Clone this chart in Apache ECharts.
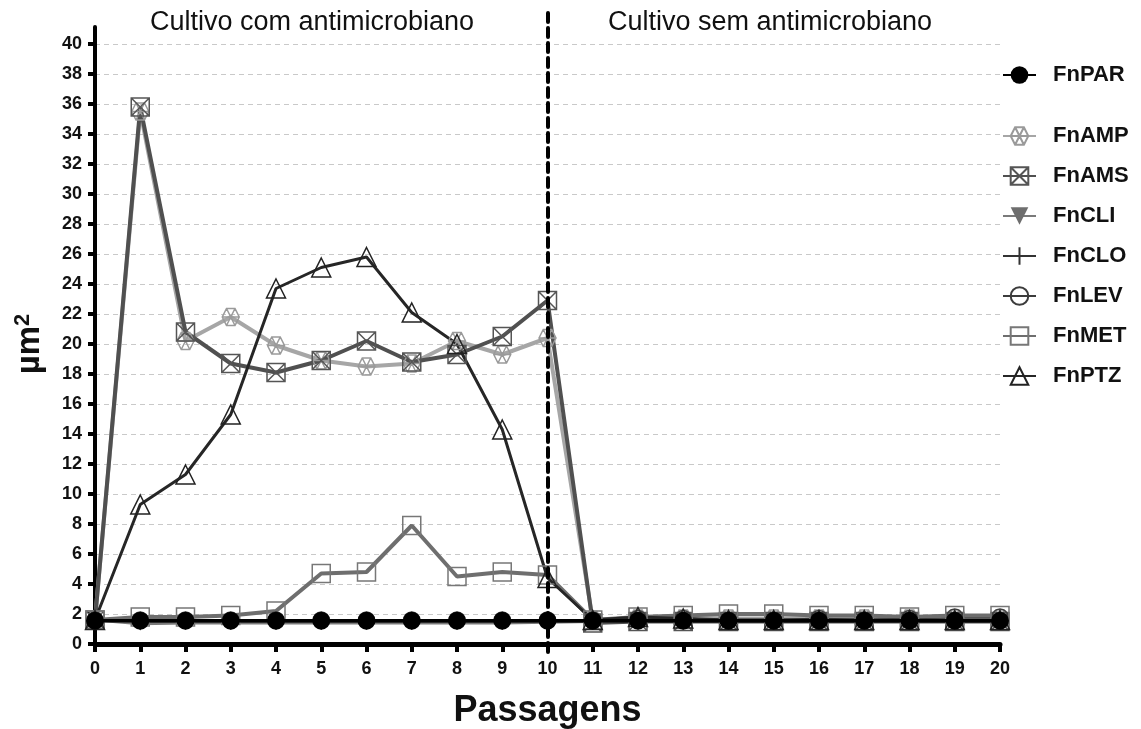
<!DOCTYPE html>
<html>
<head>
<meta charset="utf-8">
<script src="https://cdn.jsdelivr.net/npm/echarts@6/dist/echarts.min.js"></script>
<style>
  html, body { margin: 0; padding: 0; background: #fff; }
  #chart { width: 1141px; height: 729px; }
</style>
</head>
<body>
<div id="chart"></div>
<script>
// Passages (x axis) and mean area per passage (µm²) for each strain
const passagens = [0, 1, 2, 3, 4, 5, 6, 7, 8, 9, 10, 11, 12, 13, 14, 15, 16, 17, 18, 19, 20];
const yTicks = [0, 2, 4, 6, 8, 10, 12, 14, 16, 18, 20, 22, 24, 26, 28, 30, 32, 34, 36, 38, 40];

const FnPAR = [1.55, 1.55, 1.55, 1.55, 1.55, 1.55, 1.55, 1.55, 1.55, 1.55, 1.55, 1.55, 1.55, 1.55, 1.55, 1.55, 1.55, 1.55, 1.55, 1.55, 1.55];
const FnAMP = [1.6, 35.5, 20.2, 21.8, 19.9, 18.9, 18.5, 18.7, 20.2, 19.3, 20.4, 1.6, 1.7, 1.7, 1.7, 1.7, 1.7, 1.7, 1.7, 1.7, 1.7];
const FnAMS = [1.6, 35.8, 20.8, 18.7, 18.1, 18.9, 20.2, 18.8, 19.3, 20.5, 22.9, 1.4, 1.5, 1.5, 1.5, 1.5, 1.5, 1.5, 1.5, 1.5, 1.5];
const FnCLI = [1.6, 1.35, 1.4, 1.4, 1.4, 1.4, 1.4, 1.4, 1.4, 1.4, 1.45, 1.5, 1.6, 1.6, 1.6, 1.6, 1.6, 1.6, 1.6, 1.6, 1.6];
const FnCLO = [1.6, 1.5, 1.5, 1.5, 1.5, 1.5, 1.5, 1.5, 1.5, 1.5, 1.5, 1.5, 1.5, 1.5, 1.5, 1.5, 1.5, 1.5, 1.5, 1.5, 1.5];
const FnLEV = [1.6, 1.6, 1.6, 1.6, 1.6, 1.6, 1.6, 1.6, 1.6, 1.6, 1.6, 1.6, 1.7, 1.7, 1.6, 1.6, 1.7, 1.6, 1.7, 1.8, 1.8];
const FnMET = [1.6, 1.8, 1.8, 1.9, 2.2, 4.7, 4.8, 7.9, 4.5, 4.8, 4.6, 1.6, 1.8, 1.9, 2.0, 2.0, 1.9, 1.9, 1.8, 1.9, 1.9];
const FnPTZ = [1.6, 9.3, 11.3, 15.3, 23.7, 25.1, 25.8, 22.1, 20.0, 14.3, 4.4, 1.6, 1.8, 1.7, 1.6, 1.6, 1.6, 1.6, 1.6, 1.6, 1.6];

const corteAntimicrobiano = 10;
const tituloCom = 'Cultivo com antimicrobiano';
const tituloSem = 'Cultivo sem antimicrobiano';

const FONT = '"Liberation Sans", Arial, sans-serif';

// marker shapes
const SYM_HEX = 'path://M-1 0 L-0.5 -0.866 L0.5 -0.866 L1 0 L0.5 0.866 L-0.5 0.866 Z M-0.5 -0.866 L0.5 0.866 M0.5 -0.866 L-0.5 0.866 M-1 0 L1 0';
const SYM_BOXX = 'path://M0 0 L10 0 L10 10 L0 10 Z M0 0 L10 10 M10 0 L0 10';
const SYM_DOWN = 'path://M0 0 L10 0 L5 9 Z';
const SYM_PLUS = 'path://M0 5 L10 5 M5 0 L5 10';
const SYM_CIRCLE_BAR = 'path://M0 5 A5 5 0 1 1 10 5 A5 5 0 1 1 0 5 Z M0 5 L10 5';
const SYM_UP = 'path://M5 0 L10 9 L0 9 Z';

function pairs(values) {
  return passagens.map((p, i) => [p, values[i]]);
}

function lineSeries(name, values, opt) {
  return {
    name: name,
    type: 'line',
    xAxisIndex: 0,
    yAxisIndex: 0,
    data: pairs(values),
    symbol: opt.symbol,
    symbolSize: opt.size,
    showAllSymbol: true,
    lineStyle: { color: opt.line, width: opt.width },
    itemStyle: {
      color: opt.fill,
      borderColor: opt.border,
      borderWidth: opt.borderWidth
    },
    emphasis: { disabled: true },
    z: opt.z || 2
  };
}

const TRANSPARENT = 'rgba(255,255,255,0)';

const series = [
  lineSeries('FnAMP', FnAMP, { symbol: SYM_HEX, size: 17, line: '#a6a6a6', width: 4, fill: TRANSPARENT, border: '#9a9a9a', borderWidth: 1.5 }),
  lineSeries('FnAMS', FnAMS, { symbol: SYM_BOXX, size: 18, line: '#505050', width: 4, fill: TRANSPARENT, border: '#555555', borderWidth: 1.5 }),
  lineSeries('FnCLI', FnCLI, { symbol: SYM_DOWN, size: 14, line: '#7a7a7a', width: 3, fill: '#6e6e6e', border: '#6e6e6e', borderWidth: 0 }),
  lineSeries('FnCLO', FnCLO, { symbol: SYM_PLUS, size: 16, line: '#333333', width: 2, fill: TRANSPARENT, border: '#333333', borderWidth: 1.5 }),
  lineSeries('FnLEV', FnLEV, { symbol: SYM_CIRCLE_BAR, size: 16, line: '#3c3c3c', width: 2, fill: TRANSPARENT, border: '#3c3c3c', borderWidth: 1.5 }),
  lineSeries('FnMET', FnMET, { symbol: 'rect', size: 18, line: '#6e6e6e', width: 4, fill: TRANSPARENT, border: '#777777', borderWidth: 1.5 }),
  lineSeries('FnPTZ', FnPTZ, { symbol: SYM_UP, size: 19, line: '#262626', width: 3, fill: TRANSPARENT, border: '#222222', borderWidth: 1.5 }),
  lineSeries('FnPAR', FnPAR, { symbol: 'circle', size: 18, line: '#000000', width: 3.5, fill: '#000000', border: '#000000', borderWidth: 0, z: 4 }),
  // vertical dashed separator between the two culture phases
  {
    name: 'separador',
    type: 'line',
    xAxisIndex: 2,
    yAxisIndex: 2,
    data: [[corteAntimicrobiano, 0.5]],
    symbol: 'none',
    lineStyle: { width: 0 },
    silent: true,
    z: 5,
    markLine: {
      silent: true,
      symbol: 'none',
      label: { show: false },
      lineStyle: { color: '#000', width: 4, type: [9, 6], cap: 'round' },
      emphasis: { disabled: true },
      data: [{ xAxis: corteAntimicrobiano }]
    }
  }
];

const chart = echarts.init(document.getElementById('chart'), null, { renderer: 'canvas' });

const gridLeft = 95, gridRight = 141, gridBottom = 85;
const legendText = { fontSize: 22, fontWeight: 'bold', color: '#111', fontFamily: FONT, lineHeight: 22, padding: [0, 0, 0, 12] };

chart.setOption({
  animation: false,
  backgroundColor: '#ffffff',
  textStyle: { fontFamily: FONT },
  grid: [
    { left: gridLeft, right: gridRight, top: 44, bottom: gridBottom, outerBoundsMode: 'none', containLabel: false },
    { left: gridLeft, right: gridRight, top: 27, bottom: gridBottom, outerBoundsMode: 'none', containLabel: false },
    { left: gridLeft, right: gridRight, top: 12, bottom: 77, outerBoundsMode: 'none', containLabel: false }
  ],
  xAxis: [
    {
      gridIndex: 0,
      type: 'value',
      min: 0,
      max: 20,
      interval: 1,
      axisLine: { show: true, onZero: false, lineStyle: { color: '#000', width: 5 } },
      axisTick: { show: true, inside: false, length: 8, lineStyle: { color: '#000', width: 4 } },
      axisLabel: {
        color: '#111', fontSize: 18, fontWeight: 'bold', fontFamily: FONT, margin: 16,
        customValues: passagens
      },
      splitLine: { show: false },
      name: 'Passagens',
      nameLocation: 'middle',
      nameGap: 49,
      nameTextStyle: { color: '#111', fontSize: 36, fontWeight: 'bold', fontFamily: FONT }
    },
    { gridIndex: 1, type: 'value', min: 0, max: 20, show: false },
    { gridIndex: 2, type: 'value', min: 0, max: 20, show: false }
  ],
  yAxis: [
    {
      gridIndex: 0,
      type: 'value',
      min: 0,
      max: 40,
      interval: 2,
      axisLine: { show: true, onZero: false, lineStyle: { color: '#000', width: 4 } },
      axisTick: { show: true, inside: false, length: 7, lineStyle: { color: '#000', width: 4 } },
      axisLabel: {
        color: '#111', fontSize: 18, fontWeight: 'bold', fontFamily: FONT, margin: 13,
        customValues: yTicks
      },
      splitLine: { show: true, lineStyle: { color: '#c9c9c9', width: 1, type: [5, 4] } },
      name: '{a|µm}{b|2}',
      nameLocation: 'middle',
      nameRotate: 90,
      nameGap: 47,
      nameTextStyle: {
        rich: {
          a: { fontSize: 33, fontWeight: 'bold', color: '#111', fontFamily: FONT, lineHeight: 36 },
          b: { fontSize: 22, fontWeight: 'bold', color: '#111', fontFamily: FONT, verticalAlign: 'top', lineHeight: 36 }
        }
      }
    },
    {
      // full-height left axis line rising above the top grid line
      gridIndex: 1,
      type: 'value',
      min: 0,
      max: 1,
      axisLine: { show: true, onZero: false, lineStyle: { color: '#000', width: 4 } },
      axisTick: { show: false },
      axisLabel: { show: false },
      splitLine: { show: false }
    },
    { gridIndex: 2, type: 'value', min: 0, max: 1, show: false }
  ],
  legend: [
    {
      data: ['FnPAR'],
      orient: 'vertical',
      left: 997,
      top: 59,
      itemWidth: 33,
      itemHeight: 22,
      selectedMode: false,
      textStyle: legendText
    },
    {
      data: ['FnAMP', 'FnAMS', 'FnCLI', 'FnCLO', 'FnLEV', 'FnMET', 'FnPTZ'],
      orient: 'vertical',
      left: 997,
      top: 120,
      itemWidth: 33,
      itemHeight: 22,
      itemGap: 18,
      selectedMode: false,
      textStyle: legendText
    }
  ],
  graphic: [
    {
      type: 'text', left: 314 - 164, top: 9,
      style: { text: tituloCom, font: '27px "Liberation Sans", Arial, sans-serif', fill: '#111' }
    },
    {
      type: 'text', left: 773 - 165, top: 9,
      style: { text: tituloSem, font: '27px "Liberation Sans", Arial, sans-serif', fill: '#111' }
    }
  ],
  series: series
});
</script>
</body>
</html>
